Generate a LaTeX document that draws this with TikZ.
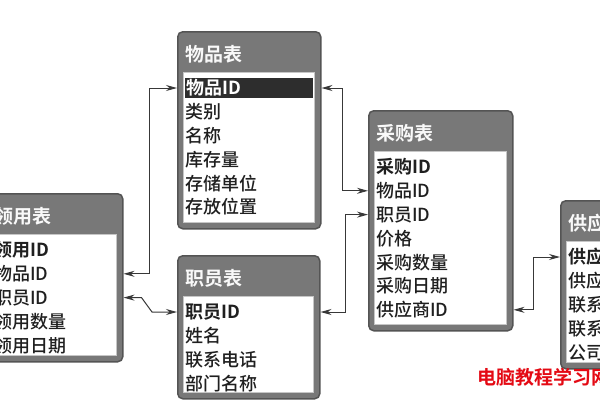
\documentclass[tikz,border=0pt]{standalone}
\usepackage{fontspec}
\usepackage{tikz}
\usetikzlibrary{arrows.meta}
\setmainfont{Noto Sans CJK SC}[UprightFont={* Medium}, BoldFont={* Bold}]
\definecolor{framegray}{gray}{0.47}
\definecolor{edgegray}{gray}{0.33}
\definecolor{textgray}{gray}{0.12}
\definecolor{linkgray}{gray}{0.22}
\definecolor{markred}{RGB}{228,10,20}
\tikzset{
  frame/.style={draw=edgegray, line width=1.5pt, fill=framegray, rounded corners=5pt, inner sep=0pt},
  listbox/.style={draw=gray!45, line width=1pt, fill=white, inner sep=0pt},
  tabtitle/.style={anchor=west, inner sep=0pt, text=white!95!gray, font=\fontsize{19}{19}\selectfont\bfseries},
  field/.style={anchor=west, inner sep=0pt, text=textgray, font=\fontsize{18}{18}\selectfont},
  keyfield/.style={field, font=\fontsize{18}{18}\selectfont\bfseries},
  selfield/.style={keyfield, fill=gray!35!black, text=white, inner xsep=1pt, text width=126pt, minimum height=20pt},
  link/.style={draw=linkgray, line width=1pt, <->, >={Stealth[length=11pt,width=6pt]}},
  watermark/.style={anchor=west, inner sep=0pt, text=markred, font=\fontsize{19}{19}\selectfont\bfseries}
}
\newcommand*{\dbtable}[9][keyfield]{%
  \node[frame, minimum width=#5, minimum height=#6, anchor=north west] (#2) at (#3,#4) {};
  \node[listbox, minimum width=#5-12, minimum height=#6-47, anchor=north west] (#2-list) at ([xshift=6pt, yshift=-41pt]#2.north west) {};
  \node[tabtitle] (#2-title) at ([xshift=8pt, yshift=-23pt]#2.north west) {#7};
  \node[#1] (#2-0) at ([xshift=8pt, yshift=-57pt]#2.north west) {#8};
  \foreach \r [count=\i] in {#9}
    \node[field] (#2-\i) at ([xshift=8pt, yshift=-57-23.8*\i]#2.north west) {\r};
}

\begin{document}
\begin{tikzpicture}[x=1pt, y=-1pt]
  \useasboundingbox (0,0) rectangle (600,400);
  \clip (0,0) rectangle (600,400);
  \fill[white] (0,0) rectangle (600,400);

  \dbtable[selfield]{wupin}{177}{31}{143}{197}{物品表}{物品ID}{类别,名称,库存量,存储单位,存放位置}
  \dbtable{lingyong}{-14}{193}{136}{168}{领用表}{领用ID}{物品ID,职员ID,领用数量,领用日期}
  \dbtable{zhiyuan}{177}{255}{142}{143}{职员表}{职员ID}{姓名,联系电话,部门名称}
  \dbtable{caigou}{368}{110}{144}{220}{采购表}{采购ID}{物品ID,职员ID,价格,采购数量,采购日期,供应商ID}
  \dbtable{gongying}{560}{200}{145}{168}{供应商表}{供应商ID}{供应商名称,联系人,联系电话,公司地址}

  \draw[link] (lingyong.east |- lingyong-1) -- ++(26,0) |- (wupin.west |- wupin-0);
  \draw[link] (lingyong.east |- lingyong-2) -- ++(18,0)
    -- ([xshift=-25pt]zhiyuan.west |- zhiyuan-0) -- (zhiyuan.west |- zhiyuan-0);
  \draw[link] (wupin.east |- wupin-0) -- ++(21,0) |- (caigou.west |- caigou-1);
  \draw[link] (zhiyuan.east |- zhiyuan-0) -- ++(25,0) |- (caigou.west |- caigou-2);
  \draw[link] (caigou.east |- caigou-6) -- ++(20,0) |- (gongying.west |- gongying-0);

  \node[watermark] (wm) at (477,377) {电脑教程学习网};
\end{tikzpicture}
\end{document}
